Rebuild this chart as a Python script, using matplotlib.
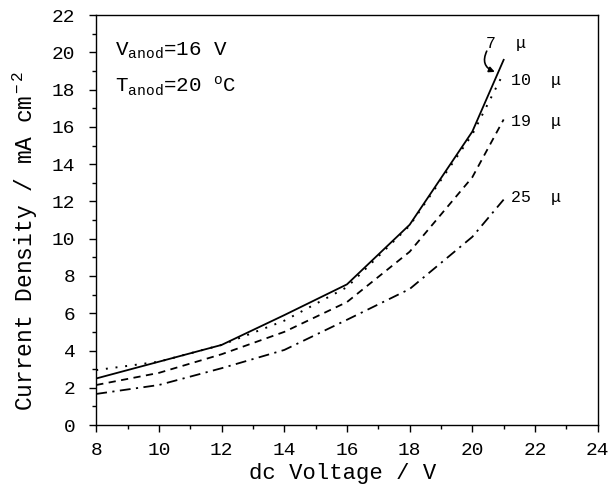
import matplotlib
matplotlib.use("Agg")
import matplotlib.pyplot as plt

# data
volts_7 = [8, 12, 14, 16, 18, 20, 21]
cd_7 = [2.5, 4.3, 5.9, 7.55, 10.75, 15.75, 19.6]

volts_10 = [8, 10, 12, 14, 16, 18, 20, 21]
cd_10 = [2.95, 3.4, 4.3, 5.6, 7.4, 10.7, 15.6, 18.9]

volts_19 = [8, 10, 12, 14, 16, 18, 20, 21]
cd_19 = [2.15, 2.8, 3.8, 5.0, 6.6, 9.3, 13.3, 16.4]

volts_25 = [8, 10, 12, 14, 16, 18, 20, 21]
cd_25 = [1.67, 2.15, 3.05, 4.03, 5.65, 7.3, 10.1, 12.1]

plt.rcParams['font.family'] = ['Liberation Mono', 'DejaVu Sans']
plt.rcParams['mathtext.fontset'] = 'custom'
plt.rcParams['mathtext.rm'] = 'Liberation Mono'
plt.rcParams['mathtext.it'] = 'Liberation Mono'

fig = plt.figure(figsize=(6.13, 4.88), dpi=100)
ax = fig.add_axes([0.157, 0.129, 0.818, 0.840])

ax.plot(volts_7, cd_7, color='black', lw=1.3, linestyle='-')
ax.plot(volts_10, cd_10, color='black', lw=1.4, linestyle=(0, (1, 4)))
ax.plot(volts_19, cd_19, color='black', lw=1.3, linestyle=(0, (4, 3)))
ax.plot(volts_25, cd_25, color='black', lw=1.3, linestyle=(0, (6, 3, 1.2, 3)))

ax.set_xlim(8, 24)
ax.set_ylim(0, 22)
ax.set_xticks(range(8, 25, 2))
ax.set_xticks(range(8, 25, 1), minor=True)
ax.set_yticks(range(0, 23, 2))
ax.set_yticks(range(0, 23, 1), minor=True)
ax.tick_params(which='major', direction='out', length=5, width=1, labelsize=14)
ax.tick_params(which='minor', direction='out', length=3, width=1)
ax.tick_params(axis='x', which='major', pad=7)
ax.tick_params(axis='y', which='major', pad=10)
ax.tick_params(top=False, right=False, which='both')

ax.set_xlabel('dc Voltage / V', fontsize=16)
ax.xaxis.set_label_coords(0.491, -0.092)
ax.set_ylabel(r'Current Density / mA cm$^{\rm -2}$', fontsize=16.5)
ax.yaxis.set_label_coords(-0.112, 0.45)

for s in ax.spines.values():
    s.set_linewidth(1)

# curve labels
ax.text(20.45, 20.5, '7  μ', fontsize=12, va='center')
ax.text(21.25, 18.5, '10  μ', fontsize=12, va='center')
ax.text(21.25, 16.3, '19  μ', fontsize=12, va='center')
ax.text(21.25, 12.2, '25  μ', fontsize=12, va='center')
ax.annotate('', xy=(20.8, 18.9), xytext=(20.5, 20.2),
            arrowprops=dict(arrowstyle='-|>', color='black', lw=1.2,
                            connectionstyle='arc3,rad=0.6', mutation_scale=8))

ax.text(8.6, 20.1, r'V$_{\rm anod}$=16 V', fontsize=15, va='center')
ax.text(8.6, 18.2, r'T$_{\rm anod}$=20 $^{\rm o}$C', fontsize=15, va='center')

fig.savefig('out.png', dpi=100)
